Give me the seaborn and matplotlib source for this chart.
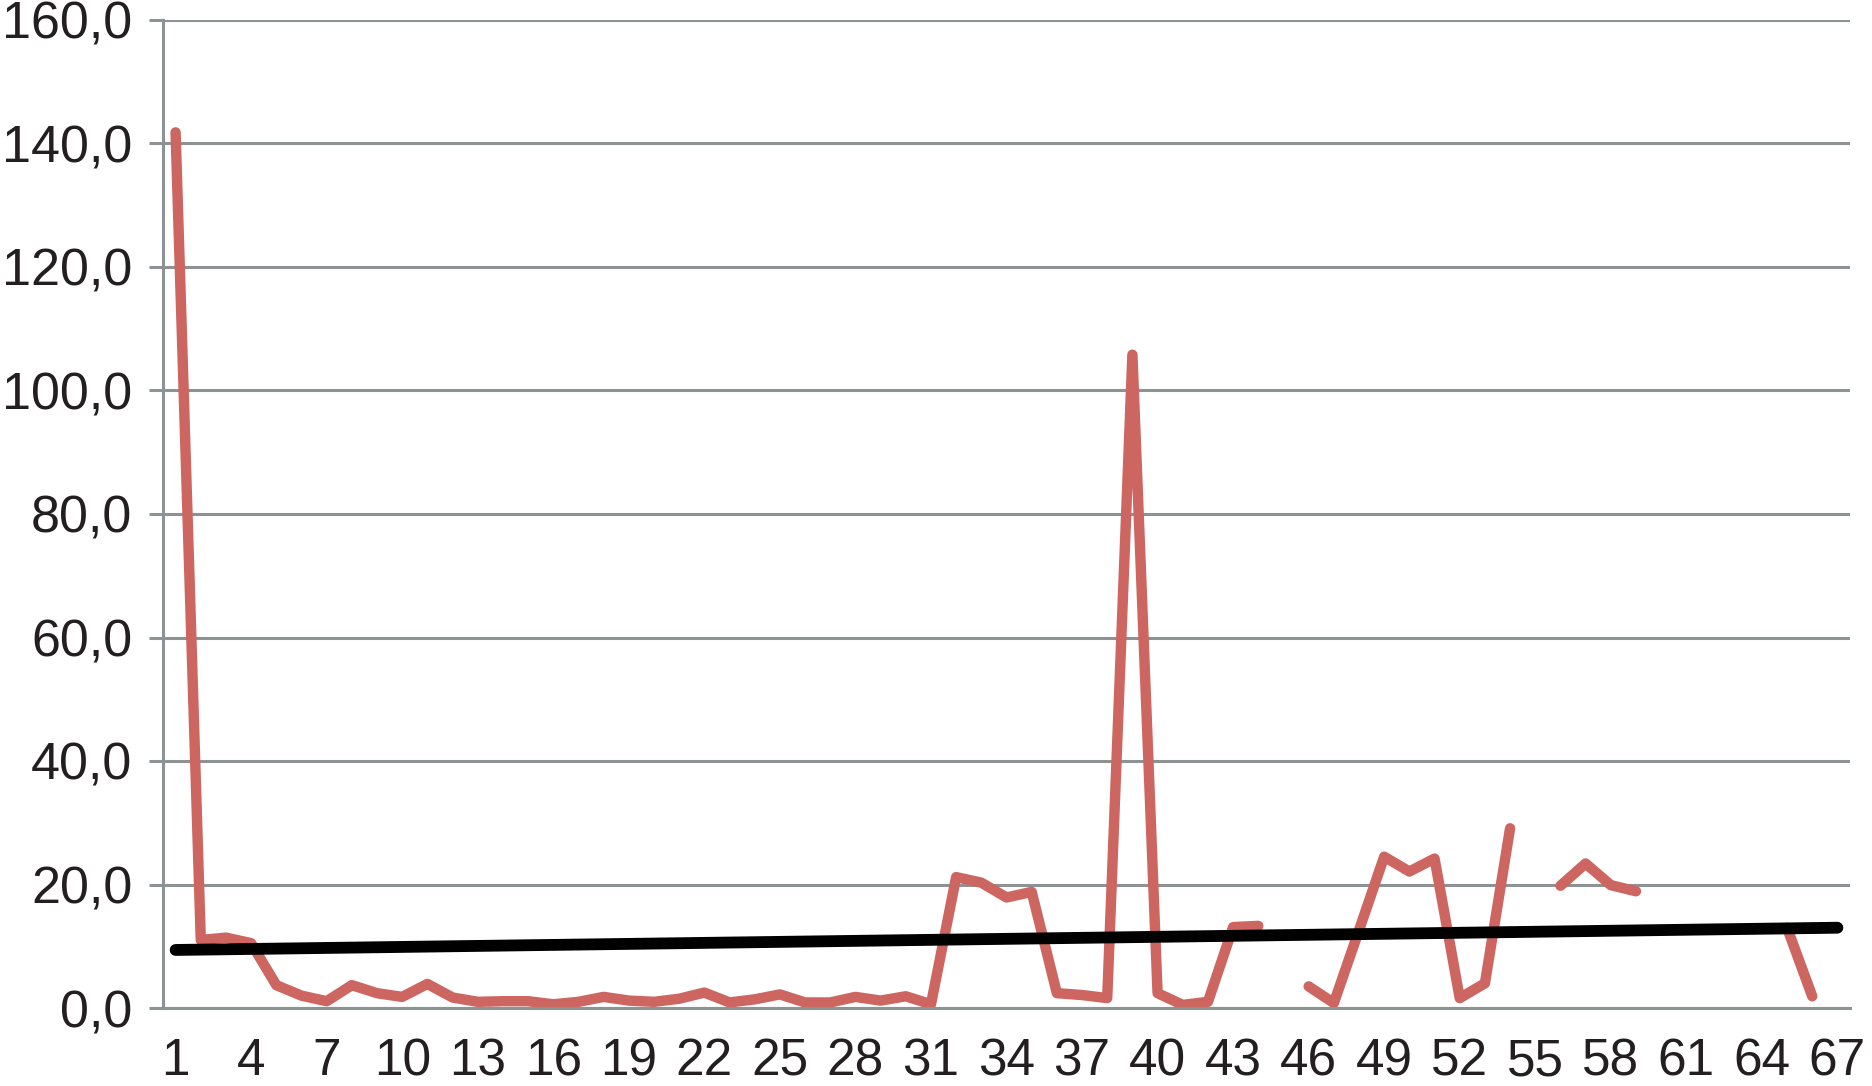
import numpy as np
import pandas as pd
import matplotlib
matplotlib.use("Agg")
import matplotlib.pyplot as plt
import seaborn as sns
from matplotlib.ticker import FuncFormatter, FixedLocator

# values per category 1..67 (nan = gap in the line)
nan = np.nan
values = [
    141.8, 11.0, 11.4, 10.5, 3.7, 2.0, 1.1, 3.7, 2.4, 1.8,
    3.9, 1.7, 1.0, 1.1, 1.1, 0.6, 1.0, 1.8, 1.2, 1.0,
    1.5, 2.5, 0.9, 1.4, 2.2, 0.9, 0.9, 1.8, 1.2, 1.9,
    0.6, 21.2, 20.3, 17.9, 18.8, 2.4, 2.1, 1.6, 105.8, 2.4,
    0.5, 1.0, 13.1, 13.3, nan, 3.5, 0.8, 12.6, 24.5, 22.1,
    24.2, 1.6, 4.0, 29.1, nan, 19.8, 23.4, 19.9, 18.9, nan,
    nan, nan, nan, nan, 13.0, 1.9, nan,
]
categories = list(range(1, 68))
tick_labels = [str(c) for c in categories[::3]]

# linear trend line, read at first and last category
trend_x = [1, 67]
trend_y = [9.4, 13.0]

# split the series into segments so gaps stay open
df = pd.DataFrame({"x": categories, "y": values})
df["seg"] = df["y"].isna().cumsum()
df = df.dropna()

sns.set_style("white")
plt.rcParams["font.family"] = ["Liberation Sans", "DejaVu Sans"]

fig = plt.figure(figsize=(18.72, 10.86), dpi=100)
ax = fig.add_axes([163 / 1872, 1 - 1008 / 1086, (1850 - 163) / 1872, (1008 - 20) / 1086])

grid_col = "#8D9395"
sns.lineplot(data=df, x="x", y="y", units="seg", estimator=None, ax=ax,
             color="#CD6560", linewidth=7.5, solid_capstyle="round",
             solid_joinstyle="round", legend=False)
sns.lineplot(x=trend_x, y=trend_y, ax=ax, color="black", linewidth=8.5,
             solid_capstyle="round", legend=False)

ax.set_xlim(0.5, 67.5)
ax.set_ylim(0, 160)
ax.set_yticks(np.arange(0, 161, 20))
ax.yaxis.set_major_formatter(FuncFormatter(lambda v, p: f"{v:.1f}".replace(".", ",")))
ax.grid(axis="y", color=grid_col, linewidth=2.2)
ax.set_axisbelow(True)

ax.xaxis.set_major_locator(FixedLocator(categories[::3]))
ax.set_xticklabels(tick_labels)
ax.xaxis.set_minor_locator(FixedLocator(np.arange(0.5, 68, 1)))
ax.tick_params(axis="x", which="major", length=0, pad=21, labelsize=37, labelcolor="#231F20")
ax.tick_params(axis="x", which="minor", length=10, width=2.2, color=grid_col, direction="out")
ax.tick_params(axis="y", which="major", length=10, width=2.2, color=grid_col,
               pad=12, labelsize=37.5, labelcolor="#231F20", left=True)

for side in ["top", "right"]:
    ax.spines[side].set_visible(False)
for side in ["left", "bottom"]:
    ax.spines[side].set_color(grid_col)
    ax.spines[side].set_linewidth(2.2)

ax.set_xlabel("")
ax.set_ylabel("")

fig.savefig("out.png", dpi=100)
